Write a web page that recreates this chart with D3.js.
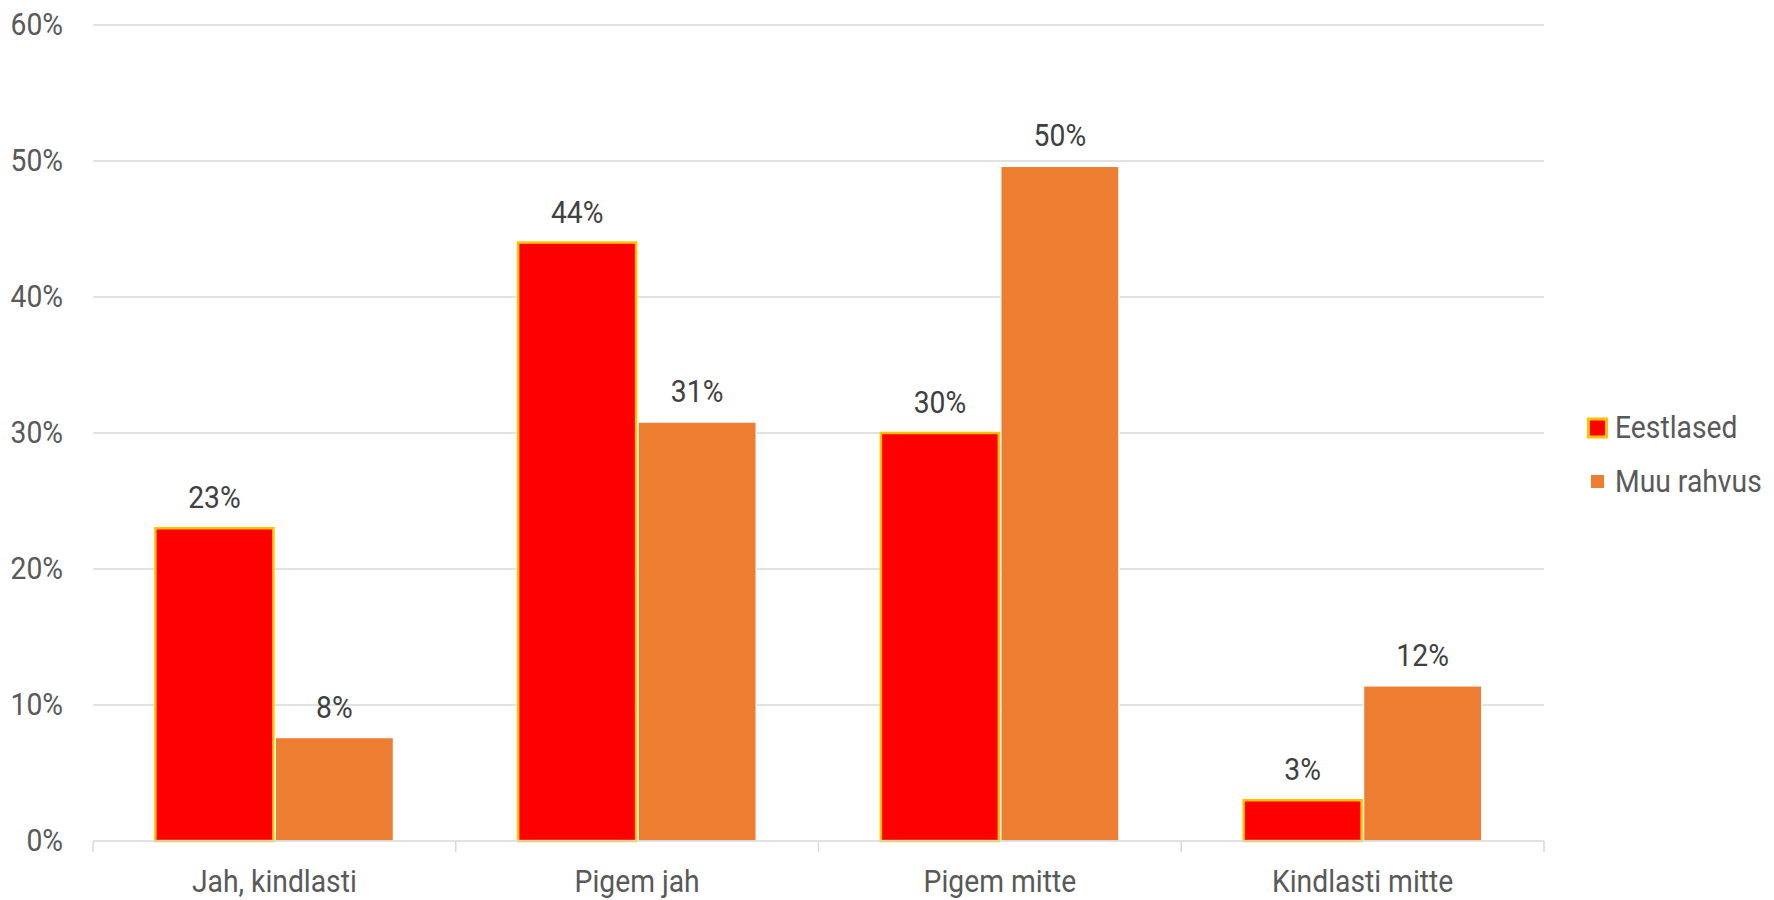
<!DOCTYPE html>
<html>
<head>
<meta charset="utf-8">
<script src="https://cdn.jsdelivr.net/npm/d3@7"></script>
<style>
  html, body { margin: 0; padding: 0; background: #fff; }
  svg { display: block; }
  text { font-family: Roboto, "Noto Sans", sans-serif; }
</style>
</head>
<body>
<svg id="chart" width="1774" height="900"></svg>
<script>
const categories = ["Jah, kindlasti", "Pigem jah", "Pigem mitte", "Kindlasti mitte"];
const seriesNames = ["Eestlased", "Muu rahvus"];
const eestlased = [23.0, 44.0, 30.0, 3.0];
const muuRahvus = [7.6, 30.8, 49.6, 11.4];
const eestlasedLabels = ["23%", "44%", "30%", "3%"];
const muuRahvusLabels = ["8%", "31%", "50%", "12%"];
const yTicks = [0, 10, 20, 30, 40, 50, 60];

const W = 1774, H = 900;
const margin = { left: 93, right: 230, top: 25, bottom: 59 };
const fontSize = 31;

const svg = d3.select("#chart");

// measure for condensed look
const probe = svg.append("text").attr("font-size", fontSize).text("Jah, kindlasti");
const baseW = probe.node().getComputedTextLength();
probe.remove();
const sx = baseW > 0 ? 165 / baseW : 1;

function label(g, x, y, txt, anchor, color) {
  return g.append("text")
    .attr("transform", `translate(${x},${y}) scale(${sx},1)`)
    .attr("text-anchor", anchor)
    .attr("font-size", fontSize)
    .attr("fill", color)
    .text(txt);
}

const x0 = d3.scaleBand().domain(categories).range([margin.left, W - margin.right]).padding(0);
const x1 = d3.scaleBand().domain(seriesNames).range([0, x0.bandwidth()])
  .paddingInner(0.0167).paddingOuter(0.52);
const y = d3.scaleLinear().domain([0, 60]).range([H - margin.bottom, margin.top]);

const colors = { "Eestlased": "#FF0000", "Muu rahvus": "#ED7D31" };
const strokes = { "Eestlased": "#FFC000", "Muu rahvus": "#FFFFFF" };

// gridlines
const grid = svg.append("g");
grid.selectAll("line").data(yTicks.filter(d => d > 0)).join("line")
  .attr("x1", margin.left).attr("x2", W - margin.right)
  .attr("y1", d => y(d)).attr("y2", d => y(d))
  .attr("stroke", "#D9D9D9").attr("stroke-width", 1.5);

// y tick labels
const yl = svg.append("g");
yTicks.forEach(t => label(yl, 63, y(t) + 10, t + "%", "end", "#595959"));

// bars
const data = categories.map((c, i) => ({ cat: c, vals: [
  { s: seriesNames[0], v: eestlased[i], l: eestlasedLabels[i] },
  { s: seriesNames[1], v: muuRahvus[i], l: muuRahvusLabels[i] }
]}));

const groups = svg.append("g").selectAll("g").data(data).join("g")
  .attr("transform", d => `translate(${x0(d.cat)},0)`);

groups.selectAll("rect").data(d => d.vals).join("rect")
  .attr("x", d => x1(d.s))
  .attr("width", x1.bandwidth())
  .attr("y", d => y(d.v))
  .attr("height", d => y(0) - y(d.v))
  .attr("fill", d => colors[d.s])
  .attr("stroke", d => strokes[d.s])
  .attr("stroke-width", d => d.s === "Eestlased" ? 2.5 : 1.2);

groups.each(function(d) {
  const g = d3.select(this);
  d.vals.forEach(v => {
    label(g, x1(v.s) + x1.bandwidth() / 2, y(v.v) - 20, v.l, "middle", "#404040");
  });
});

// x axis
const ax = svg.append("g");
ax.append("line")
  .attr("x1", margin.left).attr("x2", W - margin.right)
  .attr("y1", y(0)).attr("y2", y(0))
  .attr("stroke", "#D9D9D9").attr("stroke-width", 1.5);
const boundaries = categories.map(c => x0(c)).concat([x0(categories[categories.length - 1]) + x0.bandwidth()]);
ax.selectAll("line.tick").data(boundaries).join("line").attr("class", "tick")
  .attr("x1", d => d).attr("x2", d => d)
  .attr("y1", y(0)).attr("y2", y(0) + 11)
  .attr("stroke", "#D9D9D9").attr("stroke-width", 1.5);
categories.forEach(c => label(ax, x0(c) + x0.bandwidth() / 2, 892, c, "middle", "#595959"));

// legend
const lg = svg.append("g");
lg.append("rect").attr("x", 1588.5).attr("y", 419).attr("width", 18).attr("height", 18)
  .attr("fill", colors["Eestlased"]).attr("stroke", strokes["Eestlased"]).attr("stroke-width", 3);
label(lg, 1615, 438, seriesNames[0], "start", "#595959");
lg.append("rect").attr("x", 1591).attr("y", 475).attr("width", 13).attr("height", 13)
  .attr("fill", colors["Muu rahvus"]);
label(lg, 1615, 492, seriesNames[1], "start", "#595959");
</script>
</body>
</html>
